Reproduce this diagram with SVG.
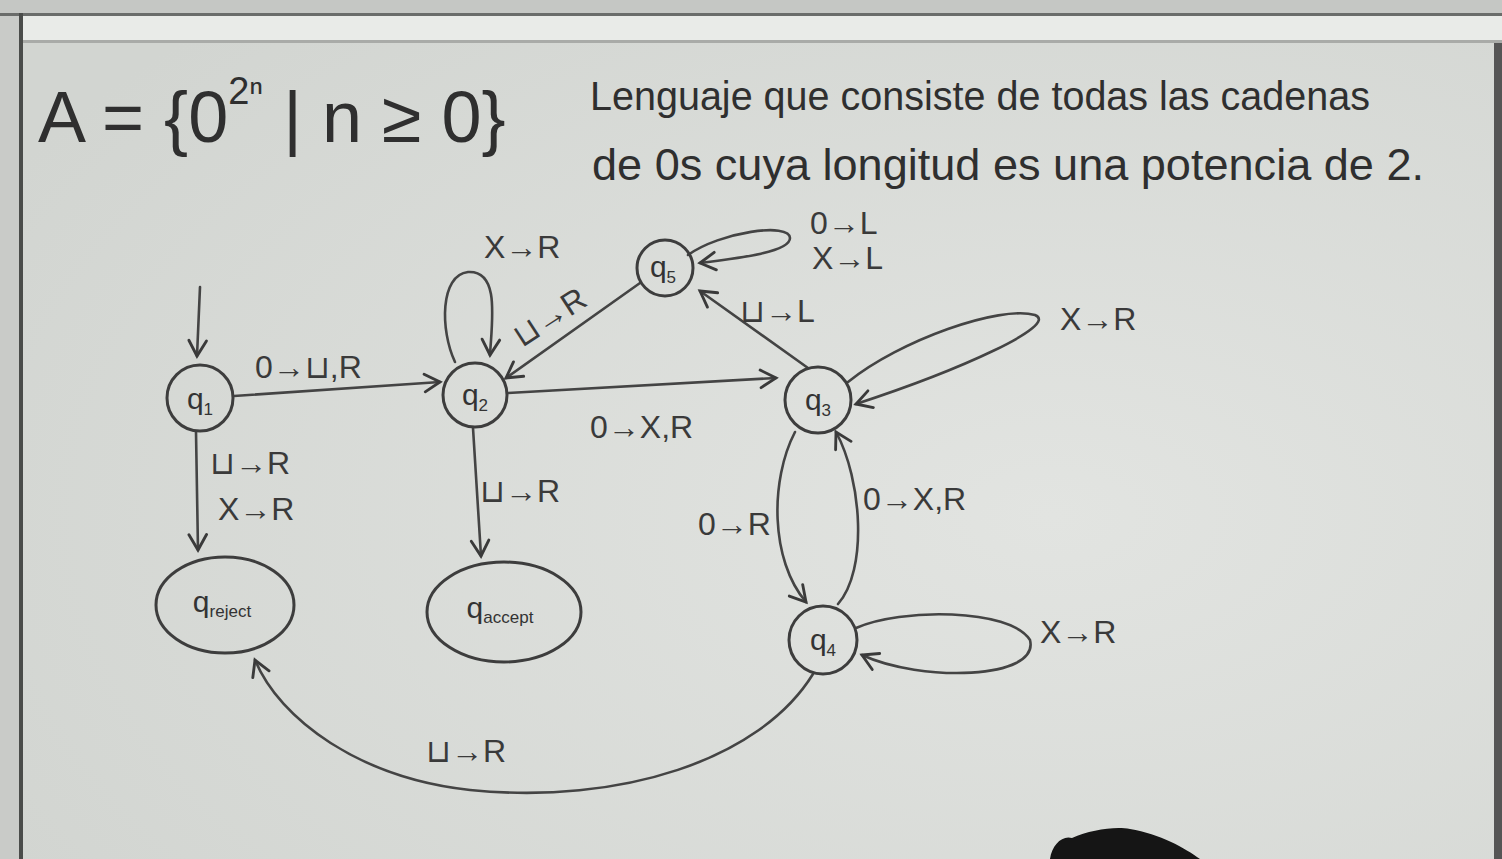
<svg xmlns="http://www.w3.org/2000/svg" width="1502" height="859" viewBox="0 0 1502 859">
<defs>
<radialGradient id="board" cx="0.7" cy="0.6" r="0.8">
<stop offset="0" stop-color="#e2e4e1"/>
<stop offset="1" stop-color="#d2d5d1"/>
</radialGradient>
<marker id="ah" viewBox="0 0 20 20" refX="16" refY="10" markerWidth="22" markerHeight="22" markerUnits="userSpaceOnUse" orient="auto">
<path d="M2,2 L16,10 L2,18" fill="none" stroke="#3a3a3a" stroke-width="2.6" stroke-linecap="round"/>
</marker>
<style>
.st{fill:none;stroke:#3d3d3d;stroke-width:3;stroke-linecap:round}
.ed{fill:none;stroke:#444;stroke-width:2.6;stroke-linecap:round}
.lb{font-family:"Liberation Sans",Arial,sans-serif;font-size:32px;fill:#3a3a3a}
.nl{font-family:"Liberation Sans",Arial,sans-serif;font-size:30px;fill:#333}
.sub{font-size:17px}
.tt{font-family:"Liberation Sans",Arial,sans-serif;fill:#2f2f2f}
</style>
</defs>
<rect width="1502" height="859" fill="url(#board)"/>
<rect width="1502" height="13" fill="#c5c7c4"/>
<rect y="13" width="1502" height="3" fill="#6a6c6a"/>
<rect y="16" width="1502" height="25" fill="#e9ebe8"/>
<rect y="40" width="1502" height="3" fill="#a9aba8"/>
<rect x="0" y="16" width="19" height="843" fill="#c9cbc8"/>
<rect x="19" y="13" width="4" height="846" fill="#4a4c4a"/>
<rect x="1494" y="43" width="8" height="816" fill="#555"/>
<path d="M1050,859 C1052,845 1062,835 1072,838 C1090,830 1115,826 1130,829 C1160,834 1185,848 1200,859 Z" fill="#151515"/>

<g id="title">
<text class="tt" x="38" y="142" font-size="72">A = {0<tspan font-size="38" dy="-38">2ⁿ</tspan><tspan dy="38"> | n ≥ 0}</tspan></text>
<text class="tt" x="590" y="110" font-size="41" textLength="780" lengthAdjust="spacingAndGlyphs">Lenguaje que consiste de todas las cadenas</text>
<text class="tt" x="592" y="180" font-size="44" textLength="832" lengthAdjust="spacingAndGlyphs">de 0s cuya longitud es una potencia de 2.</text>
</g>

<g id="connectors">
<path class="ed" d="M200,287 L197,356" marker-end="url(#ah)"/>
<path class="ed" d="M234,396 L440,382" marker-end="url(#ah)"/>
<text class="lb" x="255" y="378">0→⊔,R</text>
<path class="ed" d="M196,432 L198,550" marker-end="url(#ah)"/>
<text class="lb" x="210" y="474">⊔→R</text>
<text class="lb" x="218" y="520">X→R</text>
<path class="ed" d="M473,428 L481,556" marker-end="url(#ah)"/>
<text class="lb" x="480" y="502">⊔→R</text>
<path class="ed" d="M455,362 C440,330 440,275 468,272 C500,270 492,320 490,355" marker-end="url(#ah)"/>
<text class="lb" x="484" y="258">X→R</text>
<path class="ed" d="M640,283 L506,378" marker-end="url(#ah)"/>
<text class="lb" transform="translate(522,348) rotate(-33)">⊔→R</text>
<path class="ed" d="M508,393 L776,378" marker-end="url(#ah)"/>
<text class="lb" x="590" y="438">0→X,R</text>
<path class="ed" d="M808,368 L700,291" marker-end="url(#ah)"/>
<text class="lb" x="740" y="322">⊔→L</text>
<path class="ed" d="M688,255 C720,232 790,222 790,238 C790,252 740,258 700,263" marker-end="url(#ah)"/>
<text class="lb" x="810" y="234" font-size="22">0→L</text>
<text class="lb" x="812" y="269" font-size="22">X→L</text>
<path class="ed" d="M848,382 C900,340 1000,305 1035,315 C1060,325 960,370 856,404" marker-end="url(#ah)"/>
<text class="lb" x="1060" y="330">X→R</text>
<path class="ed" d="M795,432 C770,480 770,560 806,602" marker-end="url(#ah)"/>
<text class="lb" x="698" y="535" font-size="28">0→R</text>
<path class="ed" d="M838,604 C868,570 862,480 836,432" marker-end="url(#ah)"/>
<text class="lb" x="863" y="510" font-size="30">0→X,R</text>
<path class="ed" d="M856,628 C900,608 1010,608 1030,640 C1040,680 920,682 862,655" marker-end="url(#ah)"/>
<text class="lb" x="1040" y="643">X→R</text>
<path class="ed" d="M813,674 C760,760 620,805 470,790 C360,778 280,720 255,660" marker-end="url(#ah)"/>
<text class="lb" x="426" y="762">⊔→R</text>
</g>

<g id="q1"><circle class="st" cx="200" cy="398" r="33"/><text class="nl" x="200" y="409" text-anchor="middle">q<tspan class="sub" dy="6">1</tspan></text></g>
<g id="q2"><circle class="st" cx="475" cy="395" r="32"/><text class="nl" x="475" y="405" text-anchor="middle">q<tspan class="sub" dy="6">2</tspan></text></g>
<g id="q3"><circle class="st" cx="818" cy="400" r="33"/><text class="nl" x="818" y="410" text-anchor="middle">q<tspan class="sub" dy="6">3</tspan></text></g>
<g id="q4"><circle class="st" cx="823" cy="640" r="34"/><text class="nl" x="823" y="650" text-anchor="middle">q<tspan class="sub" dy="6">4</tspan></text></g>
<g id="q5"><circle class="st" cx="665" cy="268" r="28"/><text class="nl" x="663" y="277" text-anchor="middle" font-size="28">q<tspan class="sub" dy="6">5</tspan></text></g>
<g id="qreject"><ellipse class="st" cx="225" cy="605" rx="69" ry="48"/><text class="nl" x="222" y="612" text-anchor="middle">q<tspan class="sub" dy="5">reject</tspan></text></g>
<g id="qaccept"><ellipse class="st" cx="504" cy="612" rx="77" ry="50"/><text class="nl" x="500" y="618" text-anchor="middle">q<tspan class="sub" dy="5">accept</tspan></text></g>
</svg>
